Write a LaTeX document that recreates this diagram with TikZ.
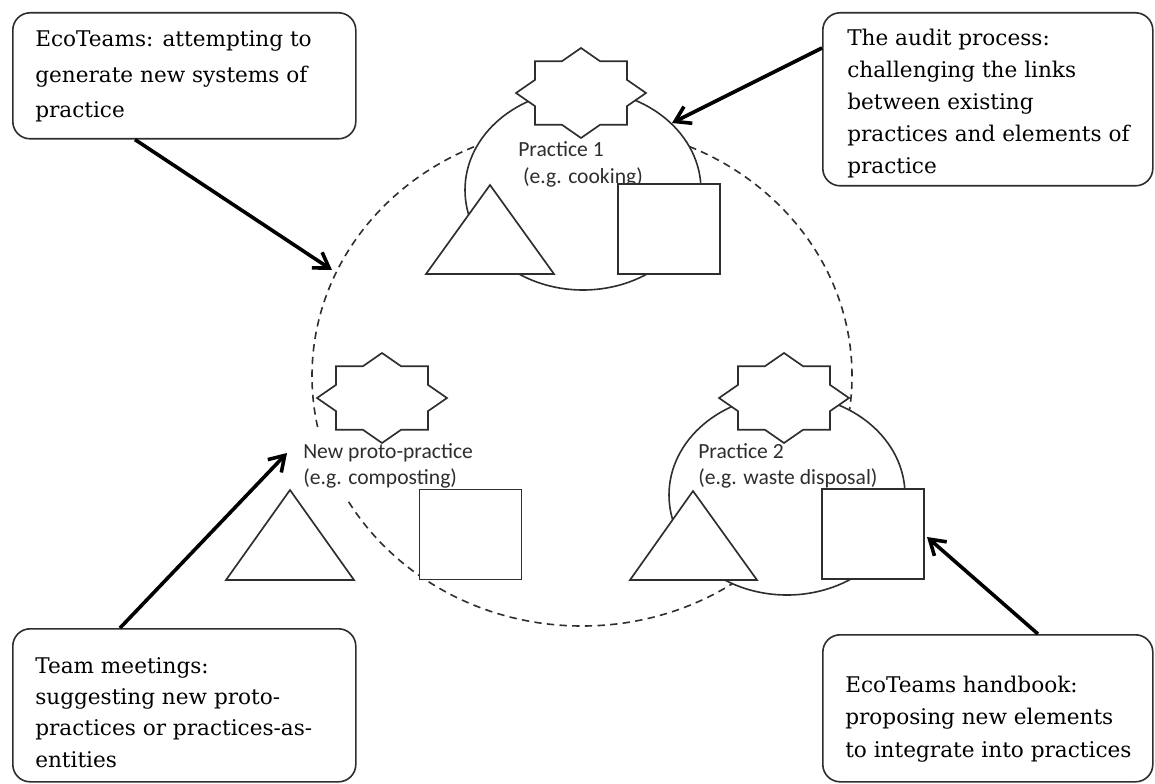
\documentclass[tikz,border=0pt]{standalone}
\usepackage{fontspec}
\setmainfont{DejaVu Serif}
\newfontfamily\calibrifont{Carlito}
\usetikzlibrary{arrows.meta,calc,shapes.geometric}
\definecolor{ink}{HTML}{2E2E2E}
\tikzset{
  shapeline/.style={draw=ink, line width=1.25pt, fill=white},
  dashring/.style={draw=ink, line width=1.2pt, dash pattern=on 5.5pt off 4pt, ellipse, inner sep=0pt},
  practiceoval/.style={draw=ink, line width=1.2pt, fill=white, ellipse, inner sep=0pt, minimum width=177pt, minimum height=150pt},
  elemsq/.style={shapeline, inner sep=0pt, minimum width=76.5pt, minimum height=67.5pt},
  callout/.style={draw=ink, line width=1.2pt, fill=white, rounded corners=13pt, inner sep=0pt, anchor=north west},
  calltext/.style={anchor=base west, inner sep=0pt, text=black},
  plabel/.style={anchor=base west, inner sep=0pt, text=ink},
  arr/.style={draw=black, line width=2.7pt, -{Straight Barb[length=11pt,width=14pt]}},
}
\newcommand\eightstar[1]{%
  \begin{scope}[shift={#1}, xscale=65, yscale=45]
    \draw[shapeline] (0:1) \foreach \i in {1,...,15}{ -- ({\i*22.5}:{mod(\i,2)==1 ? 0.765 : 1}) } -- cycle;
  \end{scope}}
\begin{document}
\begin{tikzpicture}[x=0.75pt,y=-0.75pt]
\useasboundingbox (0,0) rectangle (1155,784);

% dashed system ring
\node[dashring, minimum width=405pt, minimum height=375pt] (ring) at (582,376) {};

% practice ovals
\node[practiceoval] (p1) at (583,190) {};
\node[practiceoval] (p2) at (787,495) {};

% practice labels
\node[plabel, font=\calibrifont\fontsize{16.2pt}{20.25pt}\selectfont] (l1) at (518,157)
  {\vtop{\hbox{Practice 1}\hbox{\ (e.g. cooking)}}};
\node[plabel, fill=white, inner xsep=0.75pt, inner ysep=10pt, font=\calibrifont\fontsize{16.2pt}{19.5pt}\selectfont] (l2) at (302,458)
  {\vtop{\hbox{New proto-practice}\hbox{(e.g. composting)}}};
\node[plabel, font=\calibrifont\fontsize{16.2pt}{19.5pt}\selectfont] (l3) at (698,458)
  {\vtop{\hbox{Practice 2}\hbox{(e.g. waste disposal)}}};

% practice 1 elements
\eightstar{(581,93)}
\draw[shapeline] (490,185) -- (554,274) -- (426,274) -- cycle;
\node[elemsq] (sq1) at (669,229) {};

% proto-practice elements
\eightstar{(382,398)}
\draw[shapeline] (290,490) -- (354,580) -- (226,580) -- cycle;
\node[elemsq] (sq2) at (470.5,534.5) {};

% practice 2 elements
\eightstar{(784,398)}
\draw[shapeline] (693,491) -- (757,580) -- (630,580) -- cycle;
\node[elemsq] (sq3) at (873,534) {};

% callout boxes
\node[callout, minimum width=257.25pt, minimum height=94.5pt] (b1) at (12,12) {};
\node[callout, minimum width=247.5pt, minimum height=129.75pt] (b2) at (822,12) {};
\node[callout, minimum width=257.25pt, minimum height=114.75pt] (b3) at (12,628) {};
\node[callout, minimum width=247.5pt, minimum height=110.25pt] (b4) at (822,634) {};

\node[calltext, font=\fontsize{16.2pt}{26.5pt}\selectfont] (t1) at (35,47)
  {\vtop{\hbox{EcoTeams: attempting to}\hbox{generate new systems of}\hbox{practice}}};
\node[calltext, font=\fontsize{16.2pt}{24pt}\selectfont] (t2) at (847,46)
  {\vtop{\hbox{The audit process:}\hbox{challenging the links}\hbox{between existing}\hbox{practices and elements of}\hbox{practice}}};
\node[calltext, font=\fontsize{16.2pt}{23.5pt}\selectfont] (t3) at (35,673)
  {\vtop{\hbox{Team meetings:}\hbox{suggesting new proto-}\hbox{practices or practices-as-}\hbox{entities}}};
\node[calltext, font=\fontsize{16.2pt}{24.4pt}\selectfont] (t4) at (845,692)
  {\vtop{\hbox{EcoTeams handbook:}\hbox{proposing new elements}\hbox{to integrate into practices}}};

% arrow tips
\coordinate (tip1) at (332,270);
\coordinate (tip2) at (672,123);
\coordinate (tip3) at (287,453);
\coordinate (tip4) at (927,537);

\draw[arr] ($(b1.south west)+(123,0)$) -- (tip1);
\draw[arr] ($(b2.north west)+(0,36)$) -- (tip2);
\draw[arr] ($(b3.north west)+(108,0)$) -- (tip3);
\draw[arr] ($(b4.north west)+(216,0)$) -- (tip4);
\end{tikzpicture}
\end{document}
